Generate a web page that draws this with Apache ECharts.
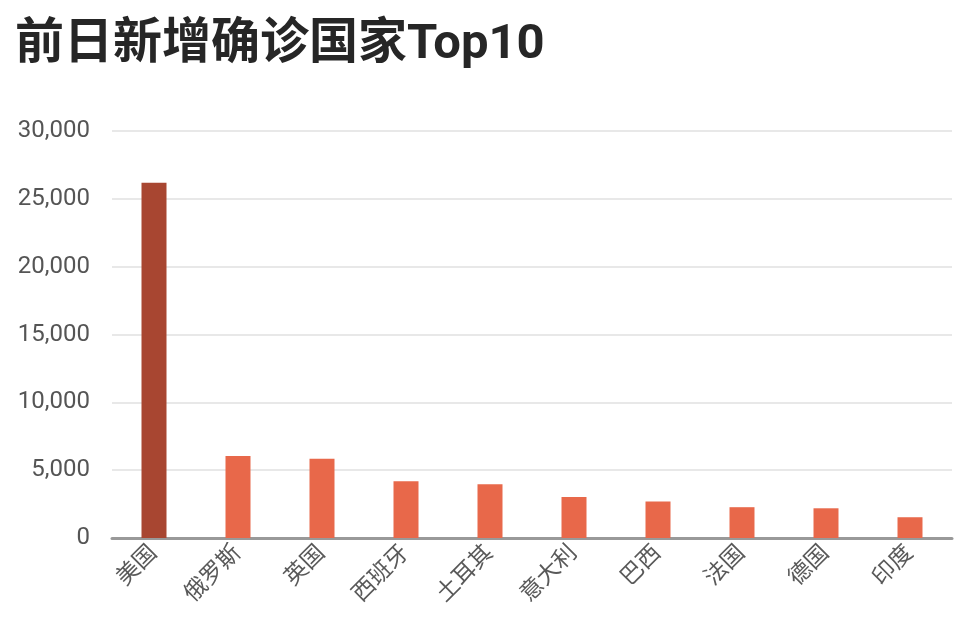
<!DOCTYPE html>
<html>
<head>
<meta charset="utf-8">
<script src="https://cdn.jsdelivr.net/npm/echarts@6/dist/echarts.min.js"></script>
<style>
  html, body { margin: 0; padding: 0; background: #ffffff; }
  #chart-container { width: 959px; height: 632px; }
</style>
</head>
<body>
<div id="chart-container"></div>
<script>
const countries = ["美国", "俄罗斯", "英国", "西班牙", "土耳其", "意大利", "巴西", "法国", "德国", "印度"];
const newCases = [26180, 6050, 5840, 4190, 3970, 3030, 2690, 2270, 2190, 1530];
const yTicks = [0, 5000, 10000, 15000, 20000, 25000, 30000];

const dom = document.getElementById("chart-container");
const myChart = echarts.init(dom, null, { renderer: "canvas" });

const fontFamily = "Roboto, 'Noto Sans CJK SC', sans-serif";

const option = {
  backgroundColor: "#ffffff",
  animation: false,
  title: {
    text: "前日新增确诊国家Top10",
    left: 10,
    top: 16,
    textStyle: {
      fontFamily: fontFamily,
      fontSize: 49,
      fontWeight: "bold",
      color: "#262626",
    },
  },
  grid: {
    left: 112,
    right: 7,
    top: 131,
    bottom: 94,
  },
  xAxis: {
    type: "category",
    data: countries,
    axisLine: { lineStyle: { color: "#999999", width: 3 } },
    axisTick: { show: false },
    axisLabel: {
      rotate: 45,
      interval: 0,
      margin: 12,
      fontFamily: fontFamily,
      fontSize: 23,
      color: "#595959",
    },
  },
  yAxis: {
    type: "value",
    min: yTicks[0],
    max: yTicks[yTicks.length - 1],
    interval: 5000,
    axisLine: { show: false },
    axisTick: { show: false },
    splitLine: { lineStyle: { color: "#e8e8e8", width: 2 } },
    axisLabel: {
      margin: 22,
      fontFamily: fontFamily,
      fontSize: 24,
      color: "#555555",
      formatter: function (v) {
        return v.toLocaleString("en");
      },
    },
  },
  series: [
    {
      type: "bar",
      barWidth: 25,
      data: newCases.map(function (v, i) {
        return {
          value: v,
          itemStyle: { color: i === 0 ? "#a84631" : "#e8684a" },
        };
      }),
    },
  ],
};

myChart.setOption(option);
window.addEventListener("resize", myChart.resize);
</script>
</body>
</html>
